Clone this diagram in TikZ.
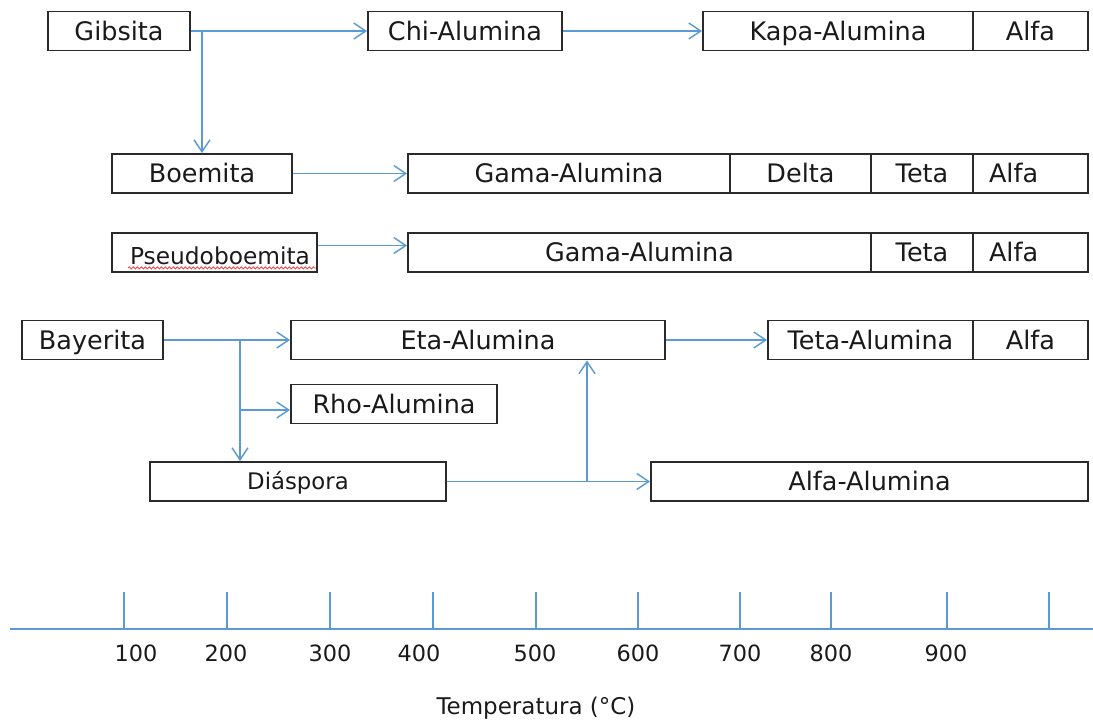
\documentclass[tikz,border=0pt]{standalone}
\usepackage{fontspec}
\setmainfont{DejaVu Sans}
\usetikzlibrary{arrows.meta,decorations.pathmorphing}

\definecolor{flow}{HTML}{5B9BD5}
\definecolor{frame}{HTML}{2A2A2A}
\definecolor{ink}{HTML}{1A1A1A}

\newcommand{\fmain}{\fontsize{25.5}{29}\selectfont}
\newcommand{\fsmall}{\fontsize{23.3}{26}\selectfont}
\newcommand{\fdia}{\fontsize{22.8}{26}\selectfont}
\newcommand{\fnum}{\fontsize{22.4}{25}\selectfont}
\newcommand{\ftemp}{\fontsize{23}{26}\selectfont}

\tikzset{
  cell/.style={draw=frame, line width=1.8pt, inner sep=0pt, minimum height=39pt,
               text=ink, font=\fmain, text height=22pt, text depth=4pt},
  smallcell/.style={cell, font=\fsmall, text height=20pt, text depth=4pt},
  leftcell/.style={cell, inner xsep=16pt, text width=83pt, align=left},
  arr/.style={draw=flow, line width=1.5pt, -{Straight Barb[length=12pt,width=16pt]}},
  axisline/.style={draw=flow, line width=2pt},
  tick/.style={draw=flow, line width=1.2pt},
  numlbl/.style={text=ink, font=\fnum, anchor=base, inner sep=0pt}
}

\begin{document}
\begin{tikzpicture}[x=1pt, y=-1pt]
\useasboundingbox (0,0) rectangle (1093,720);

% Gibsita chain
\node[cell, minimum width=142pt] (gib)  at (119,31)   {Gibsita};
\node[cell, minimum width=194pt] (chi)  at (465,31)   {Chi-Alumina};
\node[cell, minimum width=270pt] (kapa) at (838,31)   {Kapa-Alumina};
\node[cell, minimum width=115pt] (alfaA) at (1030.5,31) {Alfa};

% Boemita chain
\node[cell, minimum width=180pt] (boe)   at (202,173.5)   {Boemita};
\node[cell, minimum width=322pt] (gamaA) at (569,173.5)   {Gama-Alumina};
\node[cell, minimum width=141pt] (delta) at (800.5,173.5) {Delta};
\node[cell, minimum width=102pt] (tetaA) at (922,173.5)   {Teta};
\node[leftcell] (alfaB) at (1030.5,173.5) {Alfa};

% Pseudoboemita chain
\node[smallcell, minimum width=205pt] (ps) at (214.5,252.5) {\hspace{11pt}\raisebox{-4pt}{Pseudoboemita}};
\node[cell, minimum width=463pt] (gamaB) at (639.5,252.5) {Gama-Alumina};
\node[cell, minimum width=102pt] (tetaB) at (922,252.5)   {Teta};
\node[leftcell] (alfaC) at (1030.5,252.5) {Alfa};

% Bayerita chain
\node[cell, minimum width=141pt] (bay)    at (92.5,340)  {Bayerita};
\node[cell, minimum width=374pt] (eta)    at (478,340)   {Eta-Alumina};
\node[cell, minimum width=205pt] (tetaal) at (870.5,340) {Teta-Alumina};
\node[cell, minimum width=115pt] (alfaD)  at (1030.5,340) {Alfa};
\node[cell, minimum width=206pt] (rho)    at (394,404)   {Rho-Alumina};
\node[smallcell, font=\fdia, minimum width=296pt] (dia)  at (298,481.5) {Diáspora};
\node[cell, minimum width=437pt] (alfaal) at (869.5,481.5) {Alfa-Alumina};

% spell-check underline beneath Pseudoboemita
\draw[red!75, line width=0.8pt, decorate,
      decoration={snake, amplitude=1.1pt, segment length=4pt}]
  ([xshift=17pt,yshift=5pt]ps.south west) -- ([xshift=-2pt,yshift=5pt]ps.south east);

% transformations
\draw[arr] (gib.east) -- (chi.west);
\draw[arr] (gib.east -| boe.north) -- (boe.north);
\draw[arr] (chi.east) -- (kapa.west);
\draw[arr] (boe.east) -- (gamaA.west);
\draw[arr] ([yshift=7pt]ps.east) -- ([yshift=7pt]ps.east -| gamaB.west);

\coordinate (bj) at (240,340);
\draw[arr] (bay.east) -- (eta.west);
\draw[arr] (bj) |- ([yshift=-6pt]rho.west);
\draw[arr] (bj) -- (bj |- dia.north);
\draw[arr] (eta.east) -- (tetaal.west);

\coordinate (dj) at (587,481.5);
\draw[arr] (dia.east) -- (alfaal.west);
\draw[arr] (dj) -- (dj |- eta.south);

% temperature scale
\draw[axisline] (10,629) -- (1093,629);
\foreach \t in {124,227,330,433,536,638,740,831,947,1049}
  \draw[tick] (\t,592) -- (\t,629);
\foreach \xp/\v in {136/100,226/200,330/300,419/400,535/500,638/600,740/700,831/800,946/900}
  \node[numlbl] (n\v) at (\xp,661) {\v};
\node[numlbl, font=\ftemp] (tlabel) at (536,714) {Temperatura (°C)};
\end{tikzpicture}
\end{document}
